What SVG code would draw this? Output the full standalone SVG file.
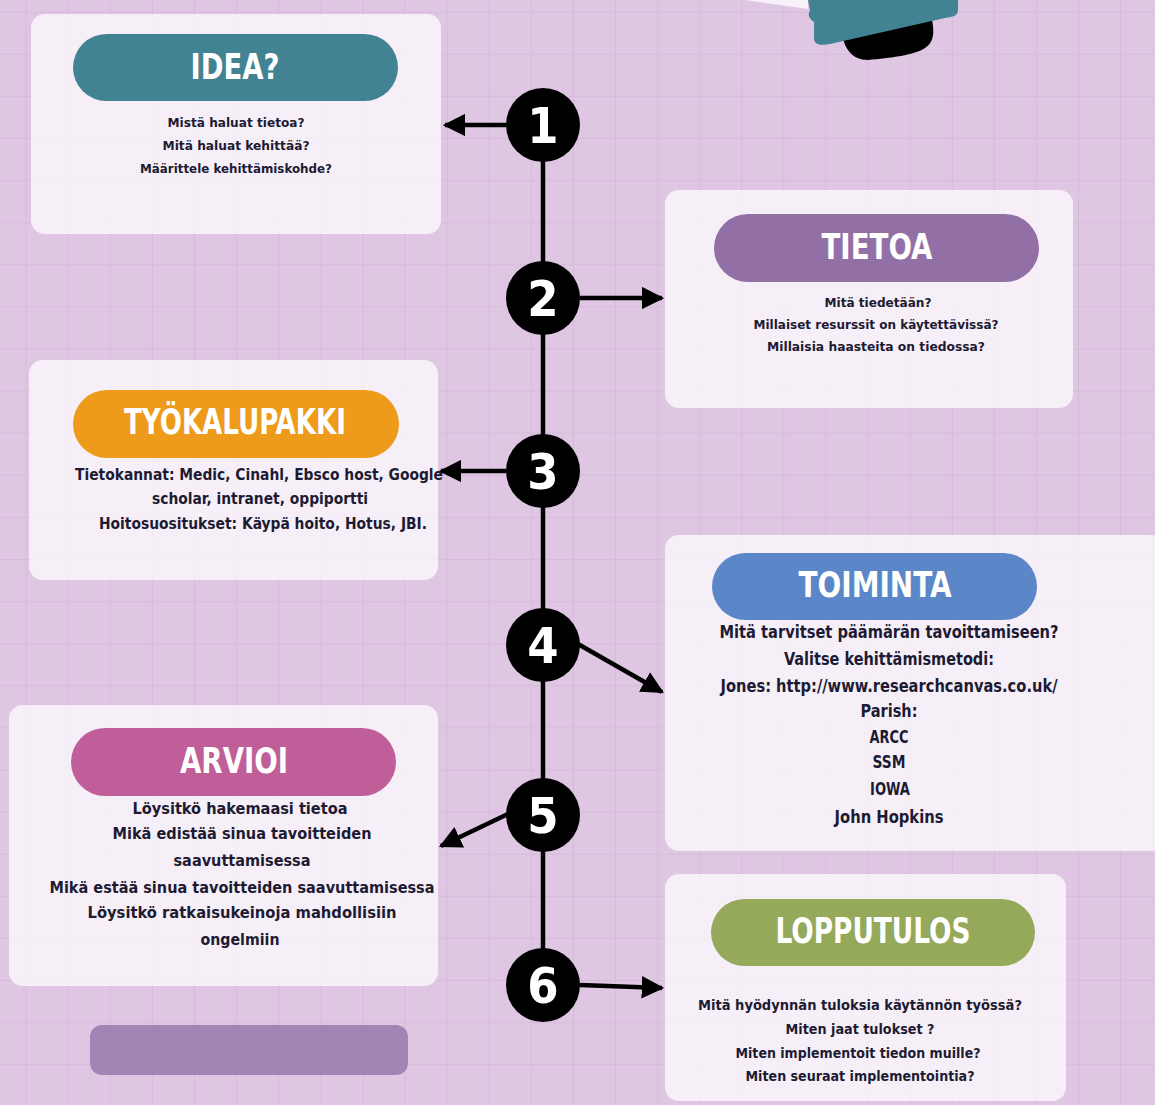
<svg xmlns="http://www.w3.org/2000/svg" width="1155" height="1105" viewBox="0 0 1155 1105">
<style>
.card{fill:#ffffff;fill-opacity:0.72}
.title{font-family:"DejaVu Sans Condensed","DejaVu Sans",sans-serif;font-weight:bold;fill:#ffffff;font-size:36px;text-anchor:middle;dominant-baseline:central}
.body{font-family:"DejaVu Sans Condensed","DejaVu Sans",sans-serif;font-weight:bold;fill:#1d1b33;text-anchor:middle;dominant-baseline:central}
.num{font-family:"DejaVu Sans Condensed","DejaVu Sans",sans-serif;font-weight:bold;fill:#ffffff;font-size:50px;text-anchor:middle;dominant-baseline:central}
.conn{stroke:#000;stroke-width:4.5;fill:none}
</style>
<defs>
<pattern id="grid" width="42.1" height="42.1" x="25.6" y="11.7" patternUnits="userSpaceOnUse">
<path d="M0 0 H42.1 M0 0 V42.1" stroke="#d4b7d9" stroke-width="1.6" fill="none"/>
</pattern>
<marker id="ah" viewBox="0 0 10 10" refX="9" refY="5" markerWidth="5" markerHeight="5" orient="auto" markerUnits="strokeWidth">
<path d="M0 0 L10 5 L0 10 Z" fill="#000"/>
</marker>
</defs>
<rect width="1155" height="1105" fill="#dfc7e3"/>
<rect width="1155" height="1105" fill="url(#grid)"/>

<g id="top-decoration">
<path d="M745 0 L808 0 L808 9 Z" fill="#f7f1f8"/>
<path d="M843 38 C845 48 852 60 868 60 C890 58 915 55 925 48 C935 42 934 30 932 20 Z" fill="#000"/>
<path d="M808 0 L958 0 L958 10 C958 16 952 17 945 18 L830 44 C818 46 814 44 814 38 L814 22 C808 18 808 14 810 10 Z" fill="#428393"/>
</g>

<g id="connectors">
<line class="conn" x1="543" y1="125" x2="543" y2="985"/>
<line class="conn" x1="506" y1="125" x2="445" y2="125" marker-end="url(#ah)"/>
<line class="conn" x1="580" y1="298" x2="662" y2="298" marker-end="url(#ah)"/>
<line class="conn" x1="506" y1="471" x2="441" y2="471" marker-end="url(#ah)"/>
<line class="conn" x1="578" y1="644" x2="662" y2="692" marker-end="url(#ah)"/>
<line class="conn" x1="508" y1="814" x2="441" y2="846" marker-end="url(#ah)"/>
<line class="conn" x1="580" y1="985" x2="662" y2="988" marker-end="url(#ah)"/>
</g>

<g id="step-1"><circle cx="543" cy="125" r="37" fill="#000"/><text class="num" x="543" y="126">1</text></g>
<g id="step-2"><circle cx="543" cy="298" r="37" fill="#000"/><text class="num" x="543" y="299">2</text></g>
<g id="step-3"><circle cx="543" cy="471" r="37" fill="#000"/><text class="num" x="543" y="472">3</text></g>
<g id="step-4"><circle cx="543" cy="645" r="37" fill="#000"/><text class="num" x="543" y="646">4</text></g>
<g id="step-5"><circle cx="543" cy="815" r="37" fill="#000"/><text class="num" x="543" y="816">5</text></g>
<g id="step-6"><circle cx="543" cy="985" r="37" fill="#000"/><text class="num" x="543" y="986">6</text></g>

<g id="idea">
<rect class="card" x="31" y="14" width="410" height="220" rx="14"/>
<rect x="73" y="34" width="325" height="67" rx="33.5" fill="#428393"/>
<text class="title" x="235" y="66" textLength="89" lengthAdjust="spacingAndGlyphs">IDEA?</text>
<text class="body" font-size="13" x="236" y="122" textLength="137" lengthAdjust="spacingAndGlyphs">Mistä haluat tietoa?</text>
<text class="body" font-size="13" x="236" y="145" textLength="147" lengthAdjust="spacingAndGlyphs">Mitä haluat kehittää?</text>
<text class="body" font-size="13" x="236" y="168" textLength="192" lengthAdjust="spacingAndGlyphs">Määrittele kehittämiskohde?</text>
</g>

<g id="tietoa">
<rect class="card" x="665" y="190" width="408" height="218" rx="14"/>
<rect x="714" y="214" width="325" height="68" rx="34" fill="#9270a6"/>
<text class="title" x="877" y="246" textLength="111" lengthAdjust="spacingAndGlyphs">TIETOA</text>
<text class="body" font-size="13" x="878" y="302" textLength="107" lengthAdjust="spacingAndGlyphs">Mitä tiedetään?</text>
<text class="body" font-size="13" x="876" y="324" textLength="245" lengthAdjust="spacingAndGlyphs">Millaiset resurssit on käytettävissä?</text>
<text class="body" font-size="13" x="876" y="346" textLength="218" lengthAdjust="spacingAndGlyphs">Millaisia haasteita on tiedossa?</text>
</g>

<g id="tyokalupakki">
<rect class="card" x="29" y="360" width="409" height="220" rx="14"/>
<rect x="73" y="390" width="326" height="68" rx="34" fill="#ee9a1a"/>
<text class="title" x="235" y="421" textLength="222" lengthAdjust="spacingAndGlyphs">TYÖKALUPAKKI</text>
<text class="body" font-size="16" x="259" y="474" textLength="368" lengthAdjust="spacingAndGlyphs">Tietokannat: Medic, Cinahl, Ebsco host, Google</text>
<text class="body" font-size="16" x="260" y="498" textLength="216" lengthAdjust="spacingAndGlyphs">scholar, intranet, oppiportti</text>
<text class="body" font-size="16" x="263" y="523" textLength="328" lengthAdjust="spacingAndGlyphs">Hoitosuositukset: Käypä hoito, Hotus, JBI.</text>
</g>

<g id="toiminta">
<rect class="card" x="665" y="535" width="500" height="316" rx="14"/>
<rect x="712" y="553" width="325" height="67" rx="33.5" fill="#5b87c8"/>
<text class="title" x="875" y="584" textLength="153" lengthAdjust="spacingAndGlyphs">TOIMINTA</text>
<text class="body" font-size="17" x="889" y="632" textLength="339" lengthAdjust="spacingAndGlyphs">Mitä tarvitset päämärän tavoittamiseen?</text>
<text class="body" font-size="17" x="889" y="659" textLength="210" lengthAdjust="spacingAndGlyphs">Valitse kehittämismetodi:</text>
<text class="body" font-size="17" x="889" y="686" textLength="337" lengthAdjust="spacingAndGlyphs">Jones: http://www.researchcanvas.co.uk/</text>
<text class="body" font-size="17" x="889" y="711" textLength="57" lengthAdjust="spacingAndGlyphs">Parish:</text>
<text class="body" font-size="17" x="889" y="737" textLength="39" lengthAdjust="spacingAndGlyphs">ARCC</text>
<text class="body" font-size="17" x="889" y="762" textLength="33" lengthAdjust="spacingAndGlyphs">SSM</text>
<text class="body" font-size="17" x="890" y="789" textLength="40" lengthAdjust="spacingAndGlyphs">IOWA</text>
<text class="body" font-size="17" x="889" y="817" textLength="109" lengthAdjust="spacingAndGlyphs">John Hopkins</text>
</g>

<g id="arvioi">
<rect class="card" x="9" y="705" width="429" height="281" rx="14"/>
<rect x="71" y="728" width="325" height="68" rx="34" fill="#bf5e98"/>
<text class="title" x="234" y="760" textLength="108" lengthAdjust="spacingAndGlyphs">ARVIOI</text>
<text class="body" font-size="16" x="240" y="808" textLength="215" lengthAdjust="spacingAndGlyphs">Löysitkö hakemaasi tietoa</text>
<text class="body" font-size="16" x="242" y="833" textLength="259" lengthAdjust="spacingAndGlyphs">Mikä edistää sinua tavoitteiden</text>
<text class="body" font-size="16" x="242" y="860" textLength="137" lengthAdjust="spacingAndGlyphs">saavuttamisessa</text>
<text class="body" font-size="16" x="242" y="887" textLength="385" lengthAdjust="spacingAndGlyphs">Mikä estää sinua tavoitteiden saavuttamisessa</text>
<text class="body" font-size="16" x="242" y="912" textLength="309" lengthAdjust="spacingAndGlyphs">Löysitkö ratkaisukeinoja mahdollisiin</text>
<text class="body" font-size="16" x="240" y="939" textLength="79" lengthAdjust="spacingAndGlyphs">ongelmiin</text>
</g>

<g id="lopputulos">
<rect class="card" x="665" y="874" width="401" height="227" rx="14"/>
<rect x="711" y="899" width="324" height="67" rx="33.5" fill="#94a95a"/>
<text class="title" x="873" y="930" textLength="195" lengthAdjust="spacingAndGlyphs">LOPPUTULOS</text>
<text class="body" font-size="14" x="860" y="1005" textLength="324" lengthAdjust="spacingAndGlyphs">Mitä hyödynnän tuloksia käytännön työssä?</text>
<text class="body" font-size="14" x="860" y="1029" textLength="149" lengthAdjust="spacingAndGlyphs">Miten jaat tulokset ?</text>
<text class="body" font-size="14" x="858" y="1053" textLength="245" lengthAdjust="spacingAndGlyphs">Miten implementoit tiedon muille?</text>
<text class="body" font-size="14" x="860" y="1076" textLength="229" lengthAdjust="spacingAndGlyphs">Miten seuraat implementointia?</text>
</g>

<g id="bottom-bar">
<rect x="90" y="1025" width="318" height="50" rx="12" fill="#9a78ad" fill-opacity="0.85"/>
</g>
</svg>
